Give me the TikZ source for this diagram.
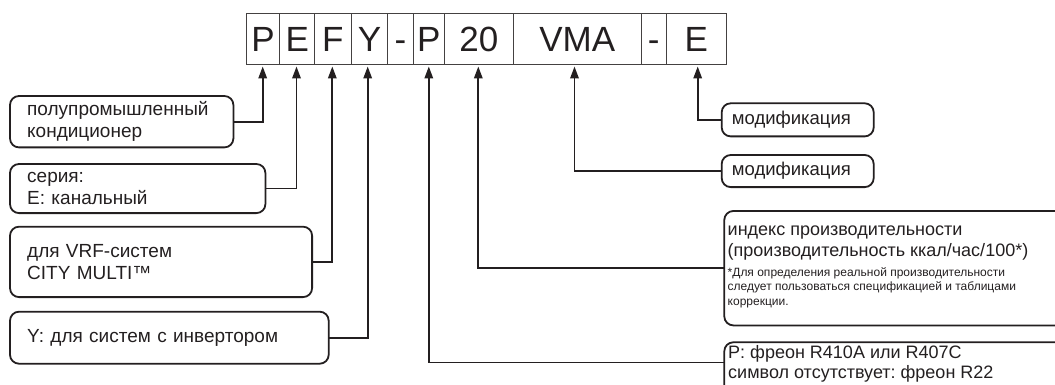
\documentclass[tikz,border=0pt]{standalone}
\usepackage{fontspec}
\setmainfont{Liberation Sans}
\usetikzlibrary{arrows.meta}
\definecolor{ink}{HTML}{231F20}
\frenchspacing
\begin{document}
\begin{tikzpicture}[
  codebox/.style={draw=ink!85, line width=1.1pt, minimum height=51.3pt, inner sep=0pt,
    anchor=north west, font=\fontsize{35}{40}\selectfont, text height=25pt, text depth=0pt, text=ink},
  lbox/.style={anchor=north west, inner ysep=0pt, align=left, text=ink, font=\fontsize{19}{22}\selectfont},
  rbox/.style={lbox, font=\fontsize{18.5}{21.5}\selectfont},
  frame/.style={draw=ink, line width=1.8pt, rounded corners=9pt},
  txt/.style={anchor=north west, inner sep=0pt, align=left, text=ink},
  conn/.style={draw=ink, line width=1.8pt, -{Triangle[width=8.5pt,length=12pt]}}]
\begin{scope}[x=1pt,y=-1pt]
\useasboundingbox (0,0) rectangle (1055,385);
\clip (0,0) rectangle (1055,385);
% code boxes
\node[codebox, minimum width=33.6pt] (c1) at (245.7,12.7) {P};
\node[codebox, minimum width=34.7pt] (c2) at (279.3,12.7) {E};
\node[codebox, minimum width=36.7pt] (c3) at (314,12.7) {F};
\node[codebox, minimum width=36.6pt] (c4) at (350.7,12.7) {Y};
\node[codebox, minimum width=25.4pt] (c5) at (387.3,12.7) {-};
\node[codebox, minimum width=31.3pt] (c6) at (412.7,12.7) {P};
\node[codebox, minimum width=68.7pt] (c7) at (444,12.7) {20};
\node[codebox, minimum width=128pt] (c8) at (512.7,12.7) {VMA};
\node[codebox, minimum width=25pt] (c9) at (640.7,12.7) {-};
\node[codebox, minimum width=60pt] (c10) at (665.7,12.7) {E};
% arrow tips
\coordinate (t1) at (262.7,66.5);
\coordinate (t2) at (296.5,66.5);
\coordinate (t3) at (332.3,66.5);
\coordinate (t4) at (367.7,66.5);
\coordinate (t6) at (428.8,66.5);
\coordinate (t7) at (478.3,66.5);
\coordinate (t8) at (574.5,66.5);
\coordinate (t10) at (697.7,66.5);
% left boxes
\node[lbox, inner xsep=17pt, minimum width=223pt, minimum height=51pt, text width=189pt] (b1) at (10,96)
  {полупромышленный\\кондиционер};
\node[lbox, inner xsep=17pt, minimum width=255pt, minimum height=48.7pt, text width=221pt] (b2) at (10,164)
  {серия:\\E: канальный};
\node[lbox, inner xsep=17pt, minimum width=301.7pt, minimum height=70pt, text width=267.7pt] (b3) at (10,226.7)
  {для VRF-систем\\CITY MULTI™};
\node[lbox, inner xsep=17pt, minimum width=318.3pt, minimum height=51.6pt, text width=284.3pt] (b4) at (10,311.7)
  {Y: для систем с инвертором};
% right boxes
\node[rbox, inner xsep=10pt, minimum width=151.6pt, minimum height=32.7pt, text width=131.6pt] (m1) at (721.7,103.3)
  {модификация};
\node[rbox, inner xsep=10pt, minimum width=151.6pt, minimum height=31.7pt, text width=131.6pt] (m2) at (721.7,155)
  {модификация};
\node[lbox, minimum width=350pt, minimum height=114pt] (ix) at (724.3,211) {};
\node[txt, font=\fontsize{18}{20.5}\selectfont] (ixa) at (727.5,226)
  {индекс производительности\\(производительность ккал/час/100*)};
\node[txt, font=\fontsize{12}{14.3}\selectfont] (ixb) at (727.5,267.5)
  {*Для определения реальной производительности\\следует пользоваться спецификацией и таблицами\\коррекции.};
\node[lbox, minimum width=350pt, minimum height=80pt] (pb) at (724.3,342.3) {};
\node[txt, font=\fontsize{18}{19.5}\selectfont] (pbt) at (728,345.5)
  {P: фреон R410A или R407C\\символ отсутствует: фреон R22};
\coordinate (pin) at (724.3,362.5);
% frames
\foreach \n in {b1,b2,b3,b4,m1,m2,ix,pb}
  \draw[frame] (\n.north west) rectangle (\n.south east);
% connectors
\draw[conn] (b1.east) -| (t1);
\draw[conn] (b2.east) -| (t2);
\draw[conn] (b3.east) -| (t3);
\draw[conn] (b4.east) -| (t4);
\draw[conn] (pin) -| (t6);
\draw[conn] (ix.west) -| (t7);
\draw[conn] (m2.west) -| (t8);
\draw[conn] (m1.west) -| (t10);
\end{scope}
\end{tikzpicture}
\end{document}
